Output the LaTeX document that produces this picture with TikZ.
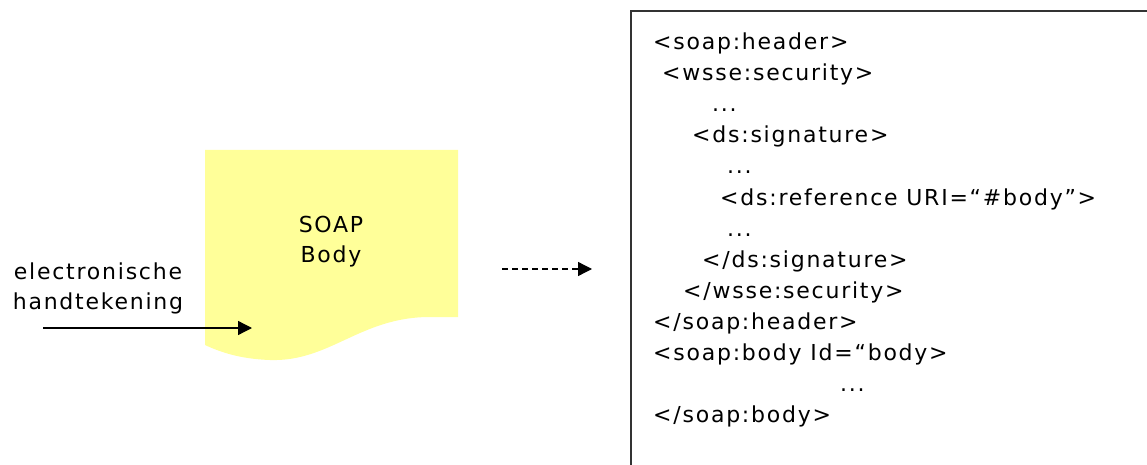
\documentclass[tikz,border=0pt]{standalone}
\usepackage{fontspec}
\usetikzlibrary{arrows.meta}
\newfontfamily\tah[LetterSpace=8]{DejaVu Sans}
\definecolor{noteyellow}{HTML}{FFFF99}
\definecolor{boxline}{HTML}{333333}
\tikzset{
  txt/.style={inner sep=0pt, font=\tah\fontsize{22}{30}\selectfont, text=black},
  code/.style={txt, anchor=base west},
  tip/.style={-{Triangle[length=14pt,width=14pt]}, line width=1.3pt, black},
}
\begin{document}
\begin{tikzpicture}[x=1pt,y=-1pt]
\useasboundingbox (0,0) rectangle (1147,465);
% yellow SOAP body document
\fill[noteyellow] (205,150) -- (458,150) -- (458,317) -- (430,317)
  .. controls (360,317) and (330,362) .. (270,360)
  .. controls (240,359) and (220,352) .. (205,345) -- cycle;
\node[txt, align=center] (soap) at (331,242) {SOAP\\Body};
% signature label and arrow
\node[txt, align=center] (sig) at (98,288) {electronische\\handtekening};
\coordinate (sigA) at (43,328);
\coordinate (sigB) at (252,328);
\draw[tip] (sigA) -- (sigB);
% dashed arrow
\coordinate (dA) at (502,269);
\coordinate (dB) at (592,269);
\draw[tip, dash pattern=on 6pt off 4pt] (dA) -- (dB);
% XML box
\draw[boxline, line width=2pt] (631,465) -- (631,11) -- (1147,11);
\foreach \i/\x/\t in {
  1/653/{<soap:header>},
  2/662/{<wsse:security>},
  3/712/{...},
  4/692/{<ds:signature>},
  5/727/{...},
  6/720/{<ds:reference URI=“\#body”>},
  7/727/{...},
  8/702/{</ds:signature>},
  9/683/{</wsse:security>},
  10/653/{</soap:header>},
  11/653/{<soap:body Id=“body>},
  12/840/{...},
  13/653/{</soap:body>}}
{
  \node[code] (c\i) at (\x,{50+31*(\i-1)}) {\t};
}
\end{tikzpicture}
\end{document}
